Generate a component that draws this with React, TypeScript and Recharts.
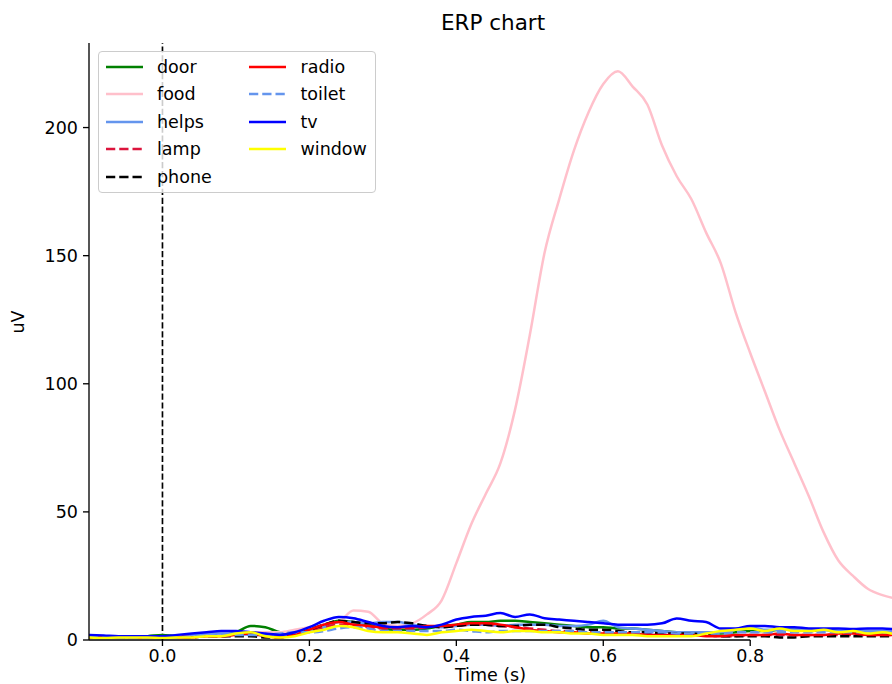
import React from "react";
import { LineChart, Line, XAxis, YAxis, ReferenceLine, Legend } from "recharts";

const times = [
  -0.1, -0.08, -0.06, -0.04, -0.02, 0.0, 0.02, 0.04, 0.06, 0.08,
  0.1, 0.12, 0.14, 0.16, 0.18, 0.2, 0.22, 0.24, 0.26, 0.28,
  0.3, 0.32, 0.34, 0.36, 0.38, 0.4, 0.42, 0.44, 0.46, 0.48,
  0.5, 0.52, 0.54, 0.56, 0.58, 0.6, 0.62, 0.64, 0.66, 0.68,
  0.7, 0.72, 0.74, 0.76, 0.78, 0.8, 0.82, 0.84, 0.86, 0.88,
  0.9, 0.92, 0.94, 0.96, 0.98, 1.0,
];

const door = [
  1.5, 1, 1, 1.2, 1.5, 2, 1.5, 1.5, 2, 2,
  3, 5.5, 5, 3, 2.5, 4, 6, 7.5, 7, 6,
  4.5, 4, 4, 4.5, 5.5, 6, 7, 7, 7.5, 7.5,
  7, 6.5, 6, 5.5, 5, 5, 4.5, 4.5, 4, 3.5,
  3, 3, 3, 2.5, 3, 3.5, 3.5, 4, 4, 3.5,
  4, 3.5, 3, 3.5, 3, 3,
];

const food = [
  1, 1, 1.5, 1, 1, 1.5, 1.5, 2, 2, 2,
  2.5, 3, 3, 3, 4, 5, 6, 7, 11.5, 11,
  6.5, 5.5, 6.5, 10, 15.5, 30, 45, 57, 69, 90,
  119, 151, 172, 191, 206, 217, 222, 216, 209, 193,
  181, 172, 159, 147, 128, 112, 97, 82, 69, 56,
  42, 31, 25, 20, 17.5, 16,
];

const helps = [
  1.5, 1.5, 1.5, 1, 1, 1, 1.5, 2, 2.5, 2.5,
  2.5, 2, 2, 2, 2.5, 3.5, 5, 7, 7, 6.5,
  7, 7, 6, 5.5, 5, 5.5, 6, 6, 5.5, 6,
  6, 6, 5.5, 5.5, 6, 7.5, 5, 4.5, 4, 3.5,
  3, 3, 3, 3, 4, 5, 4, 4, 4, 4,
  4, 3.5, 3.5, 3.5, 3.5, 3,
];

const lamp = [
  1, 1, 1, 1, 1, 1, 1.5, 1.5, 1.5, 1.5,
  2, 2.5, 2, 1.5, 2, 3.5, 5, 6, 6, 5,
  4.5, 4.5, 4.5, 5, 5.5, 5.5, 6, 6, 5.5, 5,
  4.5, 4, 3.5, 3.5, 3, 3, 3, 3, 2.5, 2.5,
  2, 2, 2, 1.5, 1.5, 2, 2, 2, 2, 2,
  2, 2, 2, 2, 2, 2,
];

const phone = [
  1, 1, 1.2, 1, 1, 1, 1, 1, 1.5, 1.5,
  1.5, 1.5, 1, 1, 2, 4, 6, 7.5, 7, 6.5,
  6.5, 7, 6.5, 5.5, 5, 5.5, 6, 6, 5.5, 5.5,
  6, 6, 5, 4.5, 4, 4, 3.5, 3, 3, 2.5,
  2.5, 2.5, 2, 1.5, 1.5, 1.5, 1.5, 1, 1, 1.5,
  1.5, 1.5, 1.5, 1.5, 1.5, 1.5,
];

const radio = [
  1, 1.2, 1.5, 1, 1, 1, 1, 1, 1.5, 1.5,
  2, 2.5, 1.5, 1, 2, 4, 6, 7, 6, 5.5,
  5, 5, 5, 5.5, 5.5, 6, 6.5, 6.5, 6, 5,
  4, 3.5, 3, 3, 2.5, 2.5, 2.5, 2.5, 2, 2,
  2, 2, 1.5, 1.5, 2, 2, 2, 2.5, 2, 2,
  2, 2.5, 2.5, 2, 2, 2,
];

const toilet = [
  1.5, 1.5, 1, 1, 1, 1, 1, 1.5, 1.5, 2,
  2, 2, 2, 2.5, 3, 3, 3.5, 4.5, 5, 4.5,
  3.5, 3.5, 3.5, 3.5, 3.5, 4, 3.5, 3, 3.5, 3.5,
  3.5, 3.5, 3.5, 3.5, 3, 3, 3, 3, 3, 3,
  2.5, 2.5, 2.5, 2.5, 3, 3, 3, 3, 3, 3,
  3, 3, 3, 3, 3, 3,
];

const tv = [
  2, 1.8, 1.5, 1.5, 1.5, 1.5, 2, 2.5, 3, 3.5,
  3.5, 3, 2.5, 2, 3, 5, 7.5, 9, 8.5, 7,
  5.5, 5, 5.5, 5, 6, 8, 9, 9.5, 10.5, 9,
  10, 8.5, 8, 7.5, 7, 6.5, 6, 6, 6, 6.5,
  8.4, 7.5, 7, 4.5, 4.5, 5.5, 5.5, 5, 5, 4.5,
  4.5, 4.5, 4.3, 4.5, 4.5, 4,
];

const windowS = [
  1, 0.8, 1, 1, 1, 0.8, 1, 1, 1.5, 1.5,
  2.5, 3, 1.5, 1, 1.5, 3, 4, 5.5, 5, 3.5,
  3, 3, 2.5, 2, 3, 3.5, 4, 3.5, 3, 3.5,
  3.5, 3, 3, 2.5, 2.5, 2, 2, 2, 1.5, 1.5,
  1.5, 1.5, 2.5, 3.5, 4, 4.5, 3.5, 4.5, 3.5, 3.5,
  4, 3, 3.5, 2.5, 3, 2,
];

const xTicks = [0, 0.2, 0.4, 0.6, 0.8];
const yTicks = [0, 50, 100, 150, 200];

type Series = { key: string; name: string; values: number[]; color: string; dashed: boolean };

const series: Series[] = [
  { key: "door", name: "door", values: door, color: "#008000", dashed: false },
  { key: "food", name: "food", values: food, color: "#FFC0CB", dashed: false },
  { key: "helps", name: "helps", values: helps, color: "#6495ED", dashed: false },
  { key: "lamp", name: "lamp", values: lamp, color: "#DC143C", dashed: true },
  { key: "phone", name: "phone", values: phone, color: "#000000", dashed: true },
  { key: "radio", name: "radio", values: radio, color: "#FF0000", dashed: false },
  { key: "toilet", name: "toilet", values: toilet, color: "#6495ED", dashed: true },
  { key: "tv", name: "tv", values: tv, color: "#0000FF", dashed: false },
  { key: "window", name: "window", values: windowS, color: "#FFFF00", dashed: false },
];

const data = times.map((t, i) => {
  const row: Record<string, number> = { t };
  series.forEach((s) => {
    row[s.key] = s.values[i];
  });
  return row;
});

const FONT = "'DejaVu Sans', sans-serif";
const FS = 17.5;
const LW = 2.5;
const DASH = "9.25 4";

const LegendBox = () => {
  const rowH = 27.4;
  const items = series.map((s, i) => {
    const col = i < 5 ? 0 : 1;
    const row = i < 5 ? i : i - 5;
    const hx = col === 0 ? 7 : 149.7;
    const tx = col === 0 ? 58 : 201.5;
    const cy = 15 + rowH * row;
    return (
      <React.Fragment key={s.key}>
        <svg
          style={{ position: "absolute", left: hx, top: cy - 5, overflow: "visible" }}
          width={37}
          height={10}
        >
          <line
            x1={0}
            y1={5}
            x2={37}
            y2={5}
            stroke={s.color}
            strokeWidth={LW}
            strokeDasharray={s.dashed ? DASH : undefined}
          />
        </svg>
        <div
          style={{
            position: "absolute",
            left: tx,
            top: cy - 11,
            height: 22,
            lineHeight: "22px",
            fontSize: FS,
            fontFamily: FONT,
            color: "#000",
            whiteSpace: "nowrap",
          }}
        >
          {s.name}
        </div>
      </React.Fragment>
    );
  });
  return (
    <div
      style={{
        position: "relative",
        width: 278,
        height: 142,
        boxSizing: "border-box",
        border: "1px solid #cccccc",
        borderRadius: 4,
        background: "rgba(255,255,255,0.8)",
      }}
    >
      {items}
    </div>
  );
};

export default function App() {
  return (
    <div
      style={{
        position: "absolute",
        left: 0,
        top: 0,
        width: 892,
        height: 684,
        background: "#fff",
        overflow: "hidden",
      }}
    >
      <div
        style={{
          position: "absolute",
          left: 0,
          width: 986,
          top: 10,
          textAlign: "center",
          fontFamily: FONT,
          fontSize: 21.5,
          color: "#000",
          lineHeight: "26px",
        }}
      >
        ERP chart
      </div>
      <LineChart
        width={892}
        height={684}
        data={data}
        margin={{ top: 43, right: 0, bottom: 0, left: 0 }}
      >
        <XAxis
          dataKey="t"
          type="number"
          domain={[-0.1, 0.993]}
          allowDataOverflow
          ticks={xTicks}
          tickFormatter={(v: number) => v.toFixed(1)}
          height={44}
          axisLine={false}
          tickLine={{ stroke: "#000", strokeWidth: 1.33 }}
          tickSize={6}
          tickMargin={4}
          tick={{ fill: "#000", fontSize: FS, fontFamily: FONT }}
          label={{
            value: "Time (s)",
            position: "insideBottom",
            offset: 3,
            fill: "#000",
            fontSize: FS,
            fontFamily: FONT,
          }}
        />
        <YAxis
          type="number"
          domain={[0, 233]}
          allowDataOverflow
          ticks={yTicks}
          width={89}
          axisLine={{ stroke: "#000", strokeWidth: 1.33 }}
          tickLine={{ stroke: "#000", strokeWidth: 1.33 }}
          tickSize={6}
          tickMargin={5}
          tick={{ fill: "#000", fontSize: FS, fontFamily: FONT }}
          label={{
            value: "uV",
            angle: -90,
            position: "insideLeft",
            offset: 18,
            dy: -8,
            fill: "#000",
            fontSize: FS,
            fontFamily: FONT,
          }}
        />
        <ReferenceLine
          x={0}
          stroke="#000"
          strokeWidth={1.67}
          strokeDasharray="6.2 2.7"
        />
        {series.map((s) => (
          <Line
            key={s.key}
            dataKey={s.key}
            name={s.name}
            type="monotone"
            stroke={s.color}
            strokeWidth={LW}
            strokeDasharray={s.dashed ? DASH : undefined}
            dot={false}
            activeDot={false}
            isAnimationActive={false}
          />
        ))}
        <ReferenceLine
          segment={[
            { x: -0.1, y: 0 },
            { x: 0.8, y: 0 },
          ]}
          stroke="#000"
          strokeWidth={1.33}
        />
        <Legend
          layout="vertical"
          align="center"
          verticalAlign="middle"
          content={() => <LegendBox />}
          wrapperStyle={{ left: 98, top: 51, width: 278, height: 142 }}
        />
      </LineChart>
    </div>
  );
}
